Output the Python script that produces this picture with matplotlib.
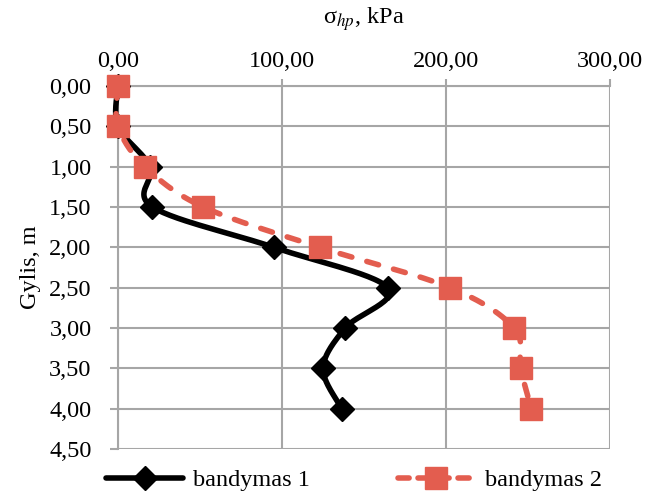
"""Profile of sigma_hp versus depth for two tests."""
import numpy as np
import matplotlib.pyplot as plt
from matplotlib.lines import Line2D
from matplotlib.ticker import FuncFormatter

plt.rcParams["font.family"] = ["Liberation Serif", "DejaVu Serif"]
plt.rcParams["mathtext.fontset"] = "stix"

DEPTH = [0.0, 0.5, 1.0, 1.5, 2.0, 2.5, 3.0, 3.5, 4.0]
TEST_1 = [0.0, 0.0, 19.5, 21.0, 95.0, 164.5, 138.5, 125.0, 136.5]
TEST_2 = [0.0, 0.0, 16.5, 52.0, 123.0, 202.5, 241.5, 245.5, 252.0]
LABELS = ["bandymas 1", "bandymas 2"]

GRID = "#a6a6a6"
RED = "#e35d4f"
FS = 17.5
LW = 4.0
DASH = (2.2, 2.8)


def smooth(xs, ys, n=30):
    # Catmull-Rom as cubic Bezier, same idea as a spreadsheet "smoothed line"
    p = np.column_stack([xs, ys]).astype(float)
    ext = np.vstack([p[0], p, p[-1]])
    t = np.linspace(0, 1, n)[:, None]
    out = []
    for i in range(1, len(ext) - 2):
        p0, p1, p2, p3 = ext[i - 1], ext[i], ext[i + 1], ext[i + 2]
        c1 = p1 + (p2 - p0) / 6
        c2 = p2 - (p3 - p1) / 6
        seg = ((1 - t) ** 3) * p1 + 3 * ((1 - t) ** 2) * t * c1 + 3 * (1 - t) * t ** 2 * c2 + t ** 3 * p2
        out.append(seg if i == 1 else seg[1:])
    seg = np.vstack(out)
    return seg[:, 0], seg[:, 1]


def comma(v, _):
    return f"{v:.2f}".replace(".", ",")


fig = plt.figure(figsize=(6.47, 4.95), dpi=100)
ax = fig.add_axes([0.1824, 0.0929, 0.7604, 0.7334])

sx, sy = smooth(TEST_1, DEPTH)
ax.plot(sx, sy, color="black", lw=LW, solid_capstyle="round", zorder=3, clip_on=False)
ax.plot(TEST_1, DEPTH, ls="none", marker="D", ms=12, color="black", zorder=4, clip_on=False)

sx, sy = smooth(TEST_2, DEPTH)
ax.plot(sx, sy, color=RED, lw=LW, dashes=DASH, dash_capstyle="round", zorder=5, clip_on=False)
ax.plot(TEST_2, DEPTH, ls="none", marker="s", ms=16, color=RED, zorder=6, clip_on=False)

ax.set_xlim(0, 300)
ax.set_ylim(4.5, 0)
ax.set_xticks([0, 100, 200, 300])
ax.set_yticks(np.arange(0, 4.51, 0.5))
ax.xaxis.set_major_formatter(FuncFormatter(comma))
ax.yaxis.set_major_formatter(FuncFormatter(comma))
ax.xaxis.tick_top()
ax.xaxis.set_label_position("top")
ax.tick_params(axis="x", length=5, width=1.5, color=GRID, labelsize=FS, pad=5)
ax.tick_params(axis="y", length=6, width=1.5, color=GRID, labelsize=FS, pad=13)
ax.grid(True, color=GRID, lw=1.5)
ax.set_axisbelow(True)
for side in ("right", "bottom"):
    ax.spines[side].set_visible(False)
for side in ("top", "left"):
    ax.spines[side].set_color(GRID)
    ax.spines[side].set_linewidth(1.5)

ax.set_xlabel(r"σ$_{hp}$, kPa", fontsize=FS, labelpad=20)
ax.set_ylabel("Gylis, m", fontsize=FS, labelpad=6)

handles = [
    Line2D([], [], color="black", lw=LW, marker="D", ms=12, solid_capstyle="round"),
    Line2D([], [], color=RED, lw=LW, dashes=(2.0, 1.6), dash_capstyle="round", marker="s", ms=16),
]
fig.legend(handles, LABELS, loc="center", bbox_to_anchor=(0.547, 0.03), ncol=2, frameon=False,
           fontsize=FS, handlelength=3.2, columnspacing=3.6, handletextpad=0.4, numpoints=1,
           borderpad=0, borderaxespad=0)

fig.savefig("out.png", dpi=100)
